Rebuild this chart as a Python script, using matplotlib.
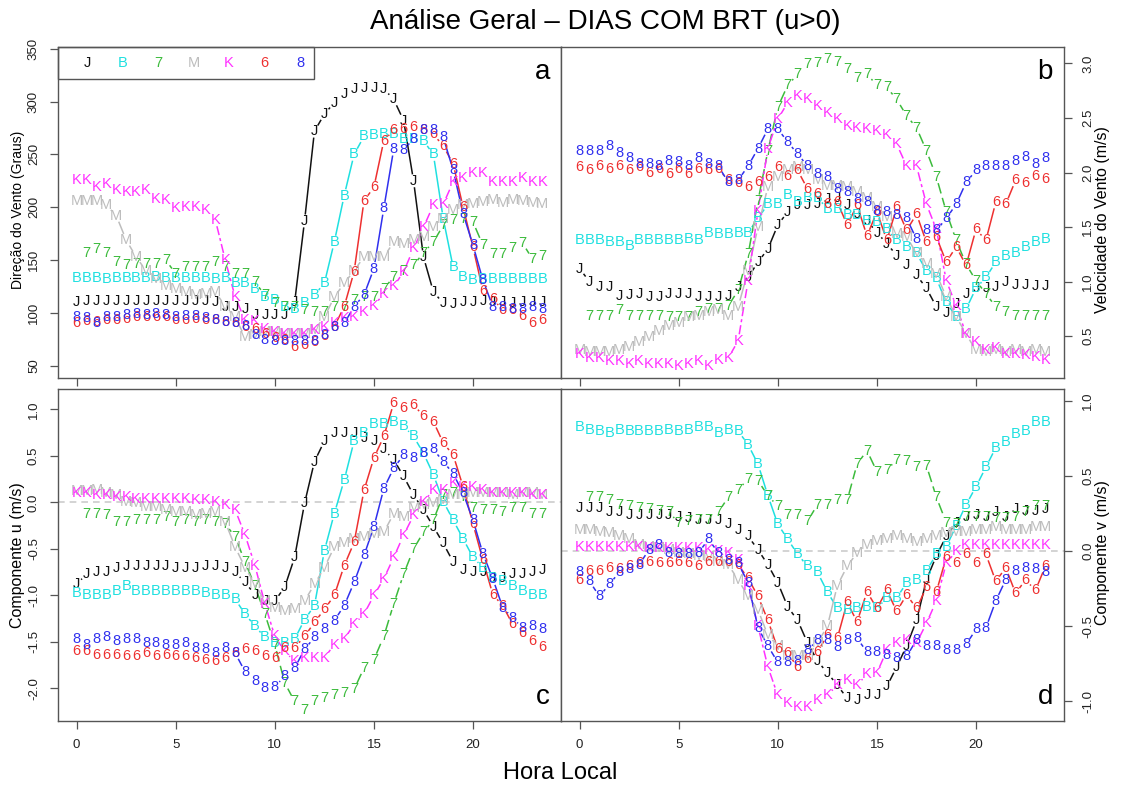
import matplotlib.pyplot as plt
from matplotlib.patches import Rectangle
import numpy as np

plt.rcParams['font.family'] = ['Liberation Sans', 'DejaVu Sans']

nan = np.nan
hours = np.arange(48) * 0.5

series_names = ['J', 'B', '7', 'M', 'K', '6', '8']
series_colors = ['#111111', '#1fe0e0', '#3cbb3c', '#bdbdbd', '#ff30ff', '#ee3030', '#3030ee']
series_dash = ['-', '-', (0, (7, 3)), '-', (0, (6, 2, 2, 2)), '-', '-']

# a: wind direction (degrees)
a_J = [110, 111, 111, 111, 111, 111, 111, 111, 111, 111, 111, 111, 111, 111, 110, 106, 106, 104, 98, 98,
       98, 98, 110, 187, 272, 288, 299, 307, 312, 313, 313, 312, 302, 282, 225, 153, 120, 109, 108, 110,
       110, 111, 110, 110, 109, 110, 110, 110]
a_B = [133, 133, 133, 132, 133, 133, 133, 133, 134, 133, 133, 133, 133, 133, 132, 133, 128, 128, 123, 115,
       112, 106, 104, 109, 117, 128, 167, 211, 250, 267, 268, 269, 269, 265, 265, 263, 250, 189, 143, 134,
       131, 132, 132, 132, 132, 132, 132, 132]
a_7 = [nan, 157, 160, 157, 148, 145, 146, 146, 146, 150, 137, 143, 143, 143, 148, 143, 137, 137, 129, 117,
       109, 106, 106, 103, 101, 101, 106, 106, 112, 115, 115, 123, 134, 140, 145, 157, 167, 183, 188, 189,
       186, 164, 156, 156, 161, 166, 151, 154]
a_M = [206, 206, 206, 202, 192, 169, 153, 140, 132, 125, 123, 120, 117, 118, 120, 106, 96, 77, 79, 82,
       82, 80, 80, 80, 84, 96, 115, 128, 140, 153, 153, 153, 167, 165, 169, 172, 181, 189, 197, 202,
       203, 205, 207, 204, 207, 206, 204, 203]
a_K = [226, 226, 219, 222, 216, 214, 214, 216, 208, 207, 199, 200, 200, 197, 188, 150, 115, 93, 92, 85,
       82, 80, 80, 80, 84, 87, 90, 95, 96, 101, 107, 118, 125, 139, 161, 181, 202, 203, 224, 228,
       232, 232, 224, 224, 224, 228, 224, 224]
a_6 = [90, 92, 91, 93, 93, 94, 96, 96, 96, 96, 93, 93, 94, 93, 93, 91, 90, 87, 85, 80,
       76, 74, 68, 70, 72, 78, 87, 106, 139, 206, 219, 263, 273, 274, 276, 273, 269, 258, 241, 200,
       162, 121, 113, 103, 103, 97, 90, 93]
a_8 = [96, 95, 90, 96, 96, 98, 99, 98, 99, 98, 96, 97, 97, 95, 93, 91, 90, 88, 79, 74,
       73, 73, 73, 73, 73, 79, 87, 90, 106, 117, 142, 199, 255, 254, 265, 273, 273, 266, 235, 194,
       164, 131, 106, 106, 104, 104, 106, 104]

# b: wind speed (m/s)
b_J = [1.12, 1.00, 0.95, 0.95, 0.87, 0.88, 0.89, 0.86, 0.86, 0.89, 0.89, 0.89, 0.86, 0.86, 0.86, 0.87,
       0.95, 1.04, 1.18, 1.30, 1.52, 1.64, 1.70, 1.70, 1.71, 1.76, 1.77, 1.70, 1.62, 1.56, 1.45, 1.35,
       1.24, 1.15, 1.06, 0.94, 0.77, 0.71, 0.80, 0.89, 0.94, 0.94, 0.95, 1.00, 0.97, 0.97, 0.96, 0.96]
b_B = [1.38, 1.38, 1.38, 1.36, 1.36, 1.33, 1.38, 1.38, 1.38, 1.38, 1.38, 1.39, 1.38, 1.45, 1.44, 1.44,
       1.45, 1.45, 1.58, 1.71, 1.71, 1.79, 1.73, 1.77, 1.77, 1.67, 1.67, 1.61, 1.61, 1.56, 1.55, 1.48,
       1.38, 1.32, 1.26, 1.10, 1.03, 0.81, 0.68, 0.75, 0.94, 1.04, 1.18, 1.24, 1.26, 1.32, 1.36, 1.39]
b_7 = [nan, 0.69, 0.69, 0.69, 0.74, 0.69, 0.69, 0.69, 0.69, 0.68, 0.68, 0.68, 0.72, 0.75, 0.75, 0.78,
       0.92, 1.25, 1.74, 2.20, 2.60, 2.80, 2.90, 2.99, 3.00, 3.04, 3.01, 2.95, 2.87, 2.90, 2.80, 2.78,
       2.67, 2.52, 2.41, 2.20, 1.96, 1.64, 1.38, 1.16, 1.01, 0.89, 0.77, 0.72, 0.69, 0.69, 0.69, 0.69]
b_M = [0.37, 0.36, 0.36, 0.36, 0.37, 0.40, 0.45, 0.49, 0.55, 0.59, 0.62, 0.68, 0.69, 0.72, 0.74, 0.69,
       0.77, 1.10, 1.50, 1.87, 1.96, 2.02, 2.05, 2.02, 1.93, 1.88, 1.88, 1.87, 1.82, 1.77, 1.68, 1.59,
       1.44, 1.41, 1.26, 1.16, 1.07, 0.86, 0.68, 0.52, 0.37, 0.36, 0.37, 0.36, 0.37, 0.36, 0.37, 0.36]
b_K = [0.34, 0.30, 0.30, 0.27, 0.27, 0.25, 0.27, 0.25, 0.25, 0.25, 0.23, 0.25, 0.27, 0.23, 0.28, 0.30,
       0.46, 1.01, 1.65, 2.22, 2.49, 2.64, 2.70, 2.67, 2.61, 2.55, 2.49, 2.43, 2.41, 2.40, 2.38, 2.34,
       2.26, 2.06, 2.06, 1.71, 1.48, 1.01, 0.78, 0.52, 0.45, 0.37, 0.39, 0.34, 0.34, 0.33, 0.31, 0.28]
b_6 = [2.05, 2.02, 2.06, 2.03, 2.06, 2.02, 2.05, 2.00, 2.03, 1.99, 2.03, 1.99, 2.03, 2.02, 2.03, 1.93,
       1.90, 1.87, 1.91, 1.96, 2.05, 1.97, 2.02, 1.85, 1.80, 1.71, 1.73, 1.52, 1.70, 1.42, 1.64, 1.38,
       1.68, 1.47, 1.62, 1.36, 1.41, 1.18, 1.32, 1.15, 1.48, 1.38, 1.73, 1.71, 1.93, 1.90, 1.97, 1.94]
b_8 = [2.20, 2.20, 2.20, 2.24, 2.18, 2.13, 2.08, 2.08, 2.06, 2.11, 2.10, 2.06, 2.13, 2.08, 2.06, 1.91,
       1.93, 2.06, 2.22, 2.40, 2.40, 2.28, 2.17, 2.06, 1.99, 1.96, 1.85, 1.82, 1.76, 1.73, 1.65, 1.64,
       1.61, 1.58, 1.39, 1.47, 1.47, 1.58, 1.71, 1.91, 2.02, 2.06, 2.06, 2.06, 2.11, 2.14, 2.08, 2.13]

# c: u component (m/s)
c_J = [-0.88, -0.77, -0.75, -0.75, -0.70, -0.68, -0.68, -0.68, -0.68, -0.68, -0.70, -0.71, -0.70, -0.68, -0.68, -0.70,
       -0.75, -0.86, -0.99, -1.06, -1.06, -0.91, -0.59, -0.01, 0.44, 0.66, 0.75, 0.75, 0.75, 0.69, 0.66, 0.57,
       0.46, 0.28, 0.08, -0.08, -0.26, -0.44, -0.64, -0.73, -0.75, -0.75, -0.81, -0.81, -0.77, -0.77, -0.75, -0.73]
c_B = [-0.97, -0.99, -0.99, -0.99, -0.95, -0.90, -0.95, -0.95, -0.95, -0.95, -0.95, -0.95, -0.95, -0.97, -1.00, -1.00,
       -1.04, -1.20, -1.33, -1.45, -1.51, -1.51, -1.47, -1.26, -1.11, -0.52, -0.12, 0.24, 0.66, 0.75, 0.84, 0.84,
       0.86, 0.82, 0.71, 0.53, 0.30, 0.01, -0.19, -0.39, -0.59, -0.70, -0.81, -0.84, -0.90, -0.95, -0.99, -1.00]
c_7 = [nan, -0.12, -0.12, -0.14, -0.21, -0.21, -0.19, -0.19, -0.19, -0.16, -0.21, -0.19, -0.21, -0.19, -0.21, -0.23,
       -0.37, -0.64, -0.90, -1.20, -1.53, -1.94, -2.14, -2.23, -2.14, -2.10, -2.07, -2.05, -2.01, -1.78, -1.69, -1.44,
       -1.09, -0.77, -0.50, -0.32, -0.19, 0.08, 0.10, 0.06, -0.06, -0.08, -0.08, -0.10, -0.06, -0.06, -0.12, -0.12]
c_M = [0.12, 0.12, 0.13, 0.10, 0.08, 0.01, -0.01, -0.05, -0.05, -0.08, -0.10, -0.10, -0.14, -0.12, -0.10, -0.21,
       -0.48, -0.70, -0.88, -1.06, -1.13, -1.17, -1.15, -1.06, -0.88, -0.70, -0.48, -0.44, -0.39, -0.37, -0.34, -0.32,
       -0.12, -0.16, -0.06, -0.03, -0.01, 0.03, 0.08, 0.08, 0.10, 0.10, 0.10, 0.10, 0.08, 0.10, 0.10, 0.08]
c_K = [0.10, 0.10, 0.08, 0.08, 0.06, 0.06, 0.04, 0.04, 0.04, 0.04, 0.04, 0.04, 0.03, 0.03, 0.01, -0.03,
       -0.08, -0.35, -0.68, -1.09, -1.44, -1.60, -1.71, -1.67, -1.67, -1.67, -1.53, -1.47, -1.31, -1.20, -1.00, -0.82,
       -0.59, -0.35, -0.14, 0.01, 0.13, 0.13, 0.21, 0.17, 0.17, 0.13, 0.10, 0.10, 0.10, 0.10, 0.08, 0.08]
c_6 = [-1.60, -1.60, -1.64, -1.64, -1.64, -1.65, -1.65, -1.62, -1.65, -1.64, -1.65, -1.65, -1.67, -1.69, -1.71, -1.67,
       -1.62, -1.58, -1.60, -1.65, -1.67, -1.56, -1.56, -1.44, -1.29, -1.15, -1.00, -0.68, -0.43, 0.13, 0.48, 0.71,
       1.07, 1.02, 1.05, 0.93, 0.87, 0.64, 0.51, 0.17, -0.23, -0.62, -0.99, -1.11, -1.31, -1.40, -1.49, -1.55]
c_8 = [-1.47, -1.53, -1.47, -1.45, -1.49, -1.47, -1.47, -1.51, -1.51, -1.53, -1.53, -1.51, -1.56, -1.58, -1.62, -1.56,
       -1.62, -1.82, -1.92, -2.00, -1.98, -1.87, -1.78, -1.58, -1.45, -1.36, -1.27, -1.11, -0.86, -0.57, -0.26, 0.15,
       0.37, 0.51, 0.48, 0.53, 0.57, 0.44, 0.31, 0.10, -0.19, -0.55, -0.82, -1.13, -1.24, -1.35, -1.33, -1.36]

# d: v component (m/s)
d_J = [0.29, 0.29, 0.29, 0.26, 0.26, 0.24, 0.24, 0.24, 0.24, 0.24, 0.23, 0.22, 0.21, 0.21, 0.21, 0.18,
       0.14, 0.10, 0.01, -0.09, -0.21, -0.37, -0.46, -0.61, -0.73, -0.81, -0.89, -0.98, -0.99, -0.96, -0.96, -0.90,
       -0.77, -0.63, -0.46, -0.19, -0.03, 0.10, 0.19, 0.23, 0.24, 0.23, 0.26, 0.23, 0.28, 0.27, 0.27, 0.28]
d_B = [0.83, 0.81, 0.80, 0.79, 0.81, 0.80, 0.80, 0.80, 0.80, 0.81, 0.80, 0.81, 0.83, 0.83, 0.79, 0.81,
       0.80, 0.71, 0.58, 0.37, 0.18, 0.08, -0.02, -0.10, -0.14, -0.27, -0.38, -0.39, -0.38, -0.37, -0.38, -0.31,
       -0.31, -0.21, -0.19, -0.13, -0.02, 0.03, 0.17, 0.31, 0.43, 0.56, 0.69, 0.73, 0.78, 0.80, 0.86, 0.86]
d_7 = [nan, 0.36, 0.36, 0.34, 0.31, 0.30, 0.29, 0.28, 0.27, 0.26, 0.19, 0.20, 0.21, 0.21, 0.26, 0.36,
       0.41, 0.48, 0.47, 0.37, 0.30, 0.24, 0.24, 0.20, 0.31, 0.31, 0.34, 0.34, 0.58, 0.67, 0.53, 0.54,
       0.61, 0.60, 0.56, 0.57, 0.36, 0.19, 0.18, 0.23, 0.23, 0.23, 0.22, 0.22, 0.23, 0.26, 0.30, 0.30]
d_M = [0.14, 0.14, 0.13, 0.12, 0.10, 0.08, 0.04, 0.03, 0.02, 0.01, -0.01, -0.02, -0.03, -0.04, -0.07, -0.09,
       -0.19, -0.30, -0.39, -0.56, -0.63, -0.70, -0.70, -0.70, -0.61, -0.50, -0.23, -0.10, -0.01, 0.04, 0.07, 0.08,
       0.10, 0.08, 0.06, 0.08, 0.10, 0.12, 0.13, 0.13, 0.14, 0.14, 0.16, 0.14, 0.14, 0.14, 0.16, 0.16]
d_K = [0.03, 0.03, 0.03, 0.03, 0.03, 0.03, 0.03, 0.02, 0.02, 0.02, 0.02, 0.02, 0.02, 0.01, 0.00, -0.01,
       -0.06, -0.23, -0.50, -0.77, -0.96, -1.01, -1.04, -1.04, -0.99, -0.96, -0.89, -0.86, -0.89, -0.82, -0.81, -0.66,
       -0.61, -0.59, -0.61, -0.48, -0.33, -0.08, 0.00, 0.04, 0.04, 0.04, 0.04, 0.04, 0.04, 0.04, 0.04, 0.04]
d_6 = [-0.19, -0.13, -0.13, -0.11, -0.12, -0.10, -0.08, -0.07, -0.08, -0.08, -0.07, -0.08, -0.10, -0.07, -0.07, -0.07,
       -0.09, -0.18, -0.30, -0.46, -0.65, -0.68, -0.77, -0.72, -0.67, -0.56, -0.58, -0.34, -0.47, -0.27, -0.38, -0.26,
       -0.40, -0.29, -0.38, -0.24, -0.27, -0.04, -0.08, -0.02, -0.08, -0.02, -0.20, -0.11, -0.28, -0.19, -0.26, -0.10]
d_8 = [-0.14, -0.20, -0.30, -0.22, -0.14, -0.12, -0.09, 0.01, 0.04, -0.01, -0.02, -0.02, -0.01, 0.08, -0.01, -0.06,
       -0.08, -0.21, -0.51, -0.63, -0.74, -0.74, -0.73, -0.66, -0.59, -0.59, -0.64, -0.59, -0.58, -0.67, -0.67, -0.69,
       -0.71, -0.70, -0.59, -0.63, -0.63, -0.66, -0.66, -0.62, -0.52, -0.51, -0.33, -0.19, -0.13, -0.11, -0.12, -0.14]

xticks = [0, 5, 10, 15, 20]

W, H = 1121, 787
fig = plt.figure(figsize=(W / 100, H / 100), dpi=100)


def box(x0, y0, x1, y1):
    return [x0 / W, 1 - y1 / H, (x1 - x0) / W, (y1 - y0) / H]


ax_a = fig.add_axes(box(58, 47, 561, 378))
ax_b = fig.add_axes(box(561, 47, 1064, 378))
ax_c = fig.add_axes(box(58, 389, 561, 721))
ax_d = fig.add_axes(box(561, 389, 1064, 721))

GAP = 6.5  # px gap around each letter, like R type="b"


def draw_series(ax, y, label, color, dash):
    y = np.asarray(y, float)
    pts = ax.transData.transform(np.column_stack([hours, np.nan_to_num(y)]))
    inv = ax.transData.inverted()
    for i in range(len(hours) - 1):
        if np.isnan(y[i]) or np.isnan(y[i + 1]):
            continue
        d = pts[i + 1] - pts[i]
        L = np.hypot(*d)
        if L <= 2 * GAP + 1:
            continue
        u = d / L
        q = inv.transform([pts[i] + GAP * u, pts[i + 1] - GAP * u])
        ax.plot(q[:, 0], q[:, 1], color=color, lw=1.1, linestyle=dash,
                solid_capstyle='butt', dash_capstyle='butt')
    for xv, yv in zip(hours, y):
        if np.isnan(yv):
            continue
        ax.text(xv, yv, label, color=color, fontsize=10.5, ha='center', va='center')


panels = [
    (ax_a, [a_J, a_B, a_7, a_M, a_K, a_6, a_8], (38.4, 351.6), np.arange(50, 351, 50), 'left', False, 'a', 0.924),
    (ax_b, [b_J, b_B, b_7, b_M, b_K, b_6, b_8], (0.118, 3.15), np.arange(0.5, 3.01, 0.5), 'right', False, 'b', 0.924),
    (ax_c, [c_J, c_B, c_7, c_M, c_K, c_6, c_8], (-2.35, 1.22), np.arange(-2.0, 1.01, 0.5), 'left', True, 'c', 0.072),
    (ax_d, [d_J, d_B, d_7, d_M, d_K, d_6, d_8], (-1.13, 1.08), np.arange(-1.0, 1.01, 0.5), 'right', True, 'd', 0.072),
]

for ax, data, ylim, yt, side, xlab, letter, ly in panels:
    ax.set_xlim(-0.94, 24.44)
    ax.set_ylim(*ylim)
    for s in ax.spines.values():
        s.set_color('#555555')
        s.set_linewidth(1.0)
    ax.set_xticks(xticks)
    ax.set_yticks(yt)
    if ylim[1] < 5:
        ax.set_yticklabels(['%.1f' % v for v in yt])
    ax.tick_params(axis='both', direction='out', length=6, width=0.9, color='#555555',
                   labelsize=9.5, pad=7, labelcolor='#222222')
    ax.tick_params(axis='x', labelbottom=xlab)
    ax.tick_params(axis='y', labelrotation=90)
    if side == 'right':
        ax.yaxis.tick_right()
    for lbl in ax.get_yticklabels():
        lbl.set_va('center')
    if letter in ('c', 'd'):
        ax.axhline(0, color='#cccccc', lw=1.2, linestyle=(0, (4, 3)), zorder=0.5)
    for y, name, col, dash in zip(data, series_names, series_colors, series_dash):
        draw_series(ax, y, name, col, dash)
    ax.text(0.963, ly, letter, transform=ax.transAxes, fontsize=20, ha='center', va='center')

# legend box in panel a
ax_a.add_patch(Rectangle((0, 0.903), 0.509, 0.097, transform=ax_a.transAxes, fill=False,
                         edgecolor='#555555', lw=1.0, clip_on=False))
for i, (name, col) in enumerate(zip(series_names, series_colors)):
    ax_a.text(0.058 + i * 0.0705, 0.952, name, color=col, fontsize=10.5, ha='center', va='center',
              transform=ax_a.transAxes)

fig.text(605 / W, 1 - 22 / H, 'Análise Geral – DIAS COM BRT (u>0)', fontsize=20, ha='center', va='center')
fig.text(560 / W, 1 - 773 / H, 'Hora Local', fontsize=17, ha='center', va='center')
fig.text(18 / W, 1 - 210 / H, 'Direção do Vento (Graus)', fontsize=10, rotation=90, ha='center', va='center')
fig.text(1103 / W, 1 - 220 / H, 'Velocidade do Vento (m/s)', fontsize=11.5, rotation=90, ha='center', va='center')
fig.text(18 / W, 1 - 555 / H, 'Componente u (m/s)', fontsize=11.5, rotation=90, ha='center', va='center')
fig.text(1103 / W, 1 - 553 / H, 'Componente v (m/s)', fontsize=11.5, rotation=90, ha='center', va='center')

fig.savefig('out.png', dpi=100, facecolor='white')
plt.close(fig)
